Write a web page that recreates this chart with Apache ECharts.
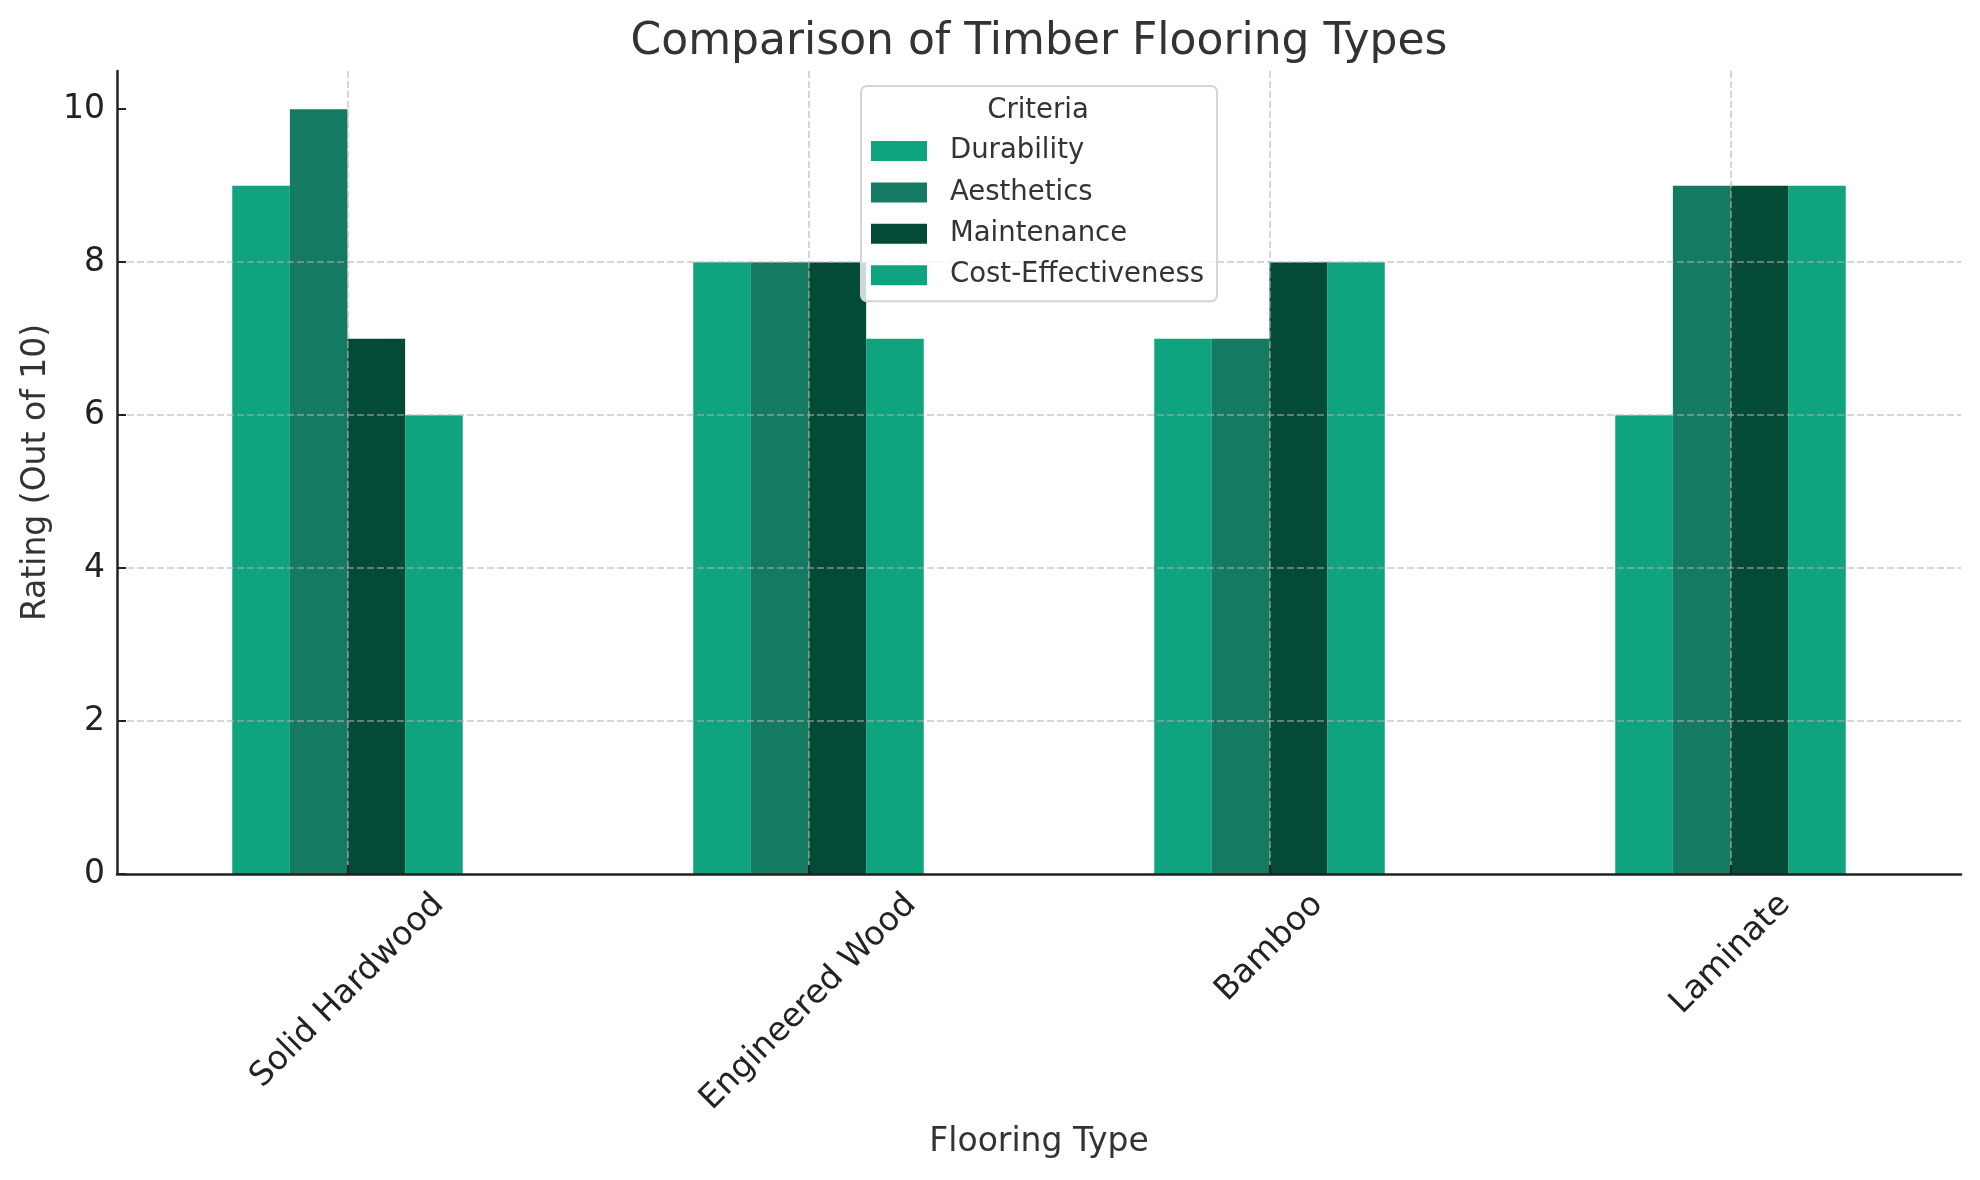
<!DOCTYPE html>
<html><head><meta charset="utf-8">
<script src="https://cdn.jsdelivr.net/npm/echarts@6/dist/echarts.min.js"></script>
<style>html,body{margin:0;padding:0;background:#fff}#chart{width:1980px;height:1180px}</style>
</head><body><div id="chart"></div>
<script>
const categories = ['Solid Hardwood', 'Engineered Wood', 'Bamboo', 'Laminate'];
const seriesNames = ['Durability', 'Aesthetics', 'Maintenance', 'Cost-Effectiveness'];
const durability = [9, 8, 7, 6];
const aesthetics = [10, 8, 7, 9];
const maintenance = [7, 8, 8, 9];
const costEffectiveness = [6, 7, 8, 9];
const yTicks = [0, 2, 4, 6, 8, 10];

const FONT = "'DejaVu Sans', sans-serif";
const colors = ['#10a37f', '#157a62', '#034a37', '#10a37f'];
const TICK_FS = 33;
const LABEL_LH = 38;
const gridStyle = { color: 'rgba(176,176,176,0.7)', width: 1.5, type: [7, 3] };

// Rotated tick labels: centre each rotated text box under its tick (matplotlib ha='center').
const ctx = document.createElement('canvas').getContext('2d');
ctx.font = TICK_FS + "px 'DejaVu Sans'";
const xData = categories.map(function (name) {
  const w = ctx.measureText(name).width;
  const b = (w + TICK_FS * 1.164) / 4;
  const t = Math.max(0, b - LABEL_LH / 2);
  return { value: name, textStyle: { align: 'center', verticalAlign: 'top', lineHeight: LABEL_LH, padding: [t, 2 * b, 0, 0] } };
});
const seriesData = [durability, aesthetics, maintenance, costEffectiveness];

const chart = echarts.init(document.getElementById('chart'), null, { renderer: 'canvas' });
chart.setOption({
  animation: false,
  backgroundColor: '#fff',
  textStyle: { fontFamily: FONT },
  title: [
    { text: 'Comparison of Timber Flooring Types', left: 1039, top: 43, textAlign: 'center', textVerticalAlign: 'middle', padding: 0,
      textStyle: { fontSize: 44, fontWeight: 'normal', color: '#333', fontFamily: FONT } },
    { text: 'Criteria', left: 1038, top: 111, textAlign: 'center', textVerticalAlign: 'middle', padding: 0, z: 21,
      textStyle: { fontSize: 27.5, fontWeight: 'normal', color: '#333', fontFamily: FONT } }
  ],
  legend: {
    orient: 'vertical', left: 861, top: 86, icon: 'rect', itemWidth: 56, itemHeight: 20, itemGap: 13.4,
    padding: [51, 13, 12, 10], backgroundColor: 'rgba(255,255,255,0.8)', borderColor: '#d4d4d4', borderWidth: 2, borderRadius: 6,
    selectedMode: false, z: 20,
    textStyle: { fontSize: 27.5, color: '#333', fontFamily: FONT, padding: [0, 0, 0, 18] },
    data: seriesNames
  },
  grid: { left: 117, right: 19, top: 71, bottom: 306, outerBoundsMode: 'none', containLabel: false },
  xAxis: {
    type: 'category', data: xData, z: 10,
    axisLine: { show: true, lineStyle: { color: '#222', width: 2.5 } },
    axisTick: { show: true, inside: true, alignWithLabel: true, length: 9, lineStyle: { color: '#222', width: 2 } },
    axisLabel: { interval: 0, rotate: 45, align: 'center', verticalAlign: 'top', margin: 12, fontSize: TICK_FS, color: '#222', fontFamily: FONT },
    splitLine: { show: true, alignWithLabel: true, interval: 0, lineStyle: gridStyle },
    name: 'Flooring Type', nameLocation: 'middle', nameGap: 252, nameMoveOverlap: false,
    nameTextStyle: { fontSize: 33, color: '#333', fontFamily: FONT }
  },
  yAxis: {
    type: 'value', min: 0, max: 10.5, interval: 2, z: 10,
    axisLine: { show: true, lineStyle: { color: '#222', width: 2.5 } },
    axisTick: { show: true, inside: true, length: 9, customValues: yTicks, lineStyle: { color: '#222', width: 2 } },
    axisLabel: { customValues: yTicks, fontSize: TICK_FS, color: '#222', fontFamily: FONT, margin: 12 },
    splitLine: { show: true, showMaxLine: false, showMinLine: false, lineStyle: gridStyle },
    name: 'Rating (Out of 10)', nameLocation: 'middle', nameGap: 64, nameRotate: 90, nameMoveOverlap: false,
    nameTextStyle: { fontSize: 33, color: '#333', fontFamily: FONT }
  },
  series: seriesNames.map(function (n, i) {
    return { name: n, type: 'bar', data: seriesData[i], barWidth: '12.5%', barGap: '0%', itemStyle: { color: colors[i] }, z: 2 };
  })
});
</script></body></html>
